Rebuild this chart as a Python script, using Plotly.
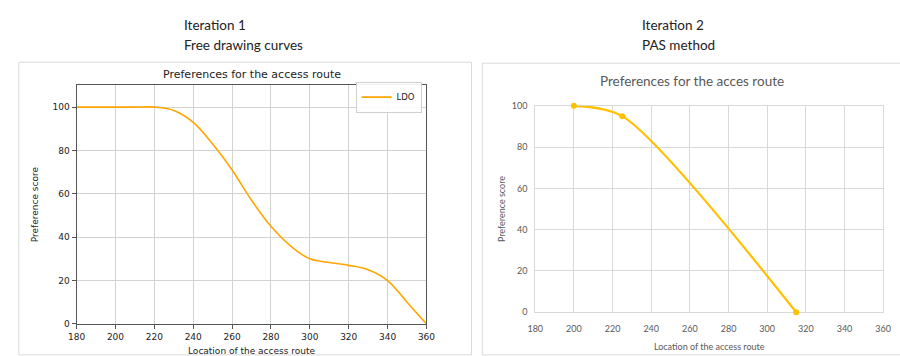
import plotly.graph_objects as go

# Iteration 1: freely drawn preference curve (location -> score)
free_x = [180, 190, 200, 210, 220, 230, 240, 250, 260, 270, 280, 290, 300, 310, 320, 330, 340, 350, 360]
free_y = [100, 100, 100, 100, 100, 98.5, 93, 83, 71, 57, 45, 36, 30, 28.3, 27, 25, 20, 10, 0]

# Iteration 2: PAS method points
pas_x = [200, 225, 315]
pas_y = [100, 95, 0]

x_ticks = [180, 200, 220, 240, 260, 280, 300, 320, 340, 360]
y_ticks = [0, 20, 40, 60, 80, 100]

W, H = 900, 356


def px(x):
    return x / W


def py(y):
    return 1 - y / H


fig = go.Figure()

fig.add_trace(go.Scatter(
    x=free_x, y=free_y, name="LDO", mode="lines",
    line=dict(color="#FFA500", width=1.6, shape="spline", smoothing=1),
    xaxis="x", yaxis="y",
))

fig.add_trace(go.Scatter(
    x=pas_x, y=pas_y, name="PAS", mode="lines+markers", showlegend=False,
    line=dict(color="#FFC000", width=2.2, shape="spline", smoothing=0.8),
    marker=dict(color="#FFC000", size=6), cliponaxis=False,
    xaxis="x2", yaxis="y2",
))

mpl_font = dict(family="DejaVu Sans", size=9, color="#222222")
xl_font = dict(family="Lato", size=9, color="#595959")

fig.update_layout(
    width=W, height=H,
    margin=dict(l=0, r=0, t=0, b=0),
    paper_bgcolor="white", plot_bgcolor="white",
    showlegend=True,
    legend=dict(
        x=px(421), y=py(78), xanchor="right", yanchor="top",
        bgcolor="rgba(255,255,255,0.9)", bordercolor="#d0d0d0", borderwidth=1,
        font=dict(family="DejaVu Sans", size=8.5, color="#222222"),
        itemwidth=30, tracegroupgap=0,
    ),
    xaxis=dict(
        domain=[px(69), px(426)], range=[180, 360], tickvals=x_ticks,
        showgrid=True, gridcolor="#d3d3d3", gridwidth=1,
        showline=True, linecolor="#555555", linewidth=1.2, mirror=True,
        ticks="outside", ticklen=4, tickcolor="#555555",
        tickfont=mpl_font, zeroline=False, anchor="y",
        title=dict(text="Location of the access route", font=mpl_font, standoff=6),
    ),
    yaxis=dict(
        domain=[py(328), py(82)], range=[0, 110], tickvals=y_ticks,
        showgrid=True, gridcolor="#d3d3d3", gridwidth=1,
        showline=True, linecolor="#555555", linewidth=1.2, mirror=True,
        ticks="outside", ticklen=4, tickcolor="#555555",
        tickfont=mpl_font, zeroline=False, anchor="x",
        title=dict(text="Preference score", font=mpl_font, standoff=12),
    ),
    xaxis2=dict(
        domain=[px(537), px(892)], range=[180, 360], tickvals=x_ticks,
        showgrid=True, gridcolor="#d9d9d9", gridwidth=1,
        showline=True, linecolor="#d9d9d9", linewidth=1, mirror=True,
        ticks="", tickfont=xl_font, zeroline=False, anchor="y2",
        ticklabelstandoff=8, layer="below traces",
        title=dict(text="Location of the access route", font=xl_font, standoff=10),
    ),
    yaxis2=dict(
        domain=[py(316), py(103)], range=[0, 100], tickvals=y_ticks,
        showgrid=True, gridcolor="#d9d9d9", gridwidth=1,
        showline=True, linecolor="#d9d9d9", linewidth=1, mirror=True,
        ticks="", tickfont=xl_font, zeroline=False, anchor="x2",
        ticklabelstandoff=5, layer="below traces",
        title=dict(text="Preference score", font=xl_font, standoff=4),
    ),
)

# Panel frames
fig.add_shape(type="rect", xref="paper", yref="paper",
              x0=px(10), x1=px(472), y0=py(360), y1=py(58),
              line=dict(color="#d9d9d9", width=1), layer="below")
fig.add_shape(type="rect", xref="paper", yref="paper",
              x0=px(483), x1=px(910), y0=py(360), y1=py(59),
              line=dict(color="#d9d9d9", width=1), layer="below")

head_font = dict(family="Lato", size=13.5, color="#222222")
annos = [
    dict(text="Iteration 1", x=px(177), y=py(20), xanchor="left", font=head_font),
    dict(text="Free drawing curves", x=px(177), y=py(40), xanchor="left", font=head_font),
    dict(text="Iteration 2", x=px(644), y=py(20), xanchor="left", font=head_font),
    dict(text="PAS method", x=px(644), y=py(40), xanchor="left", font=head_font),
    dict(text="Preferences for the access route", x=px(247.5), y=py(71), xanchor="center",
         font=dict(family="DejaVu Sans", size=11, color="#222222")),
    dict(text="Preferences for the acces route", x=px(697), y=py(77), xanchor="center",
         font=dict(family="Lato", size=13.5, color="#595959")),
]
for a in annos:
    fig.add_annotation(xref="paper", yref="paper", yanchor="middle", showarrow=False, **a)

fig.write_html("out.html")
